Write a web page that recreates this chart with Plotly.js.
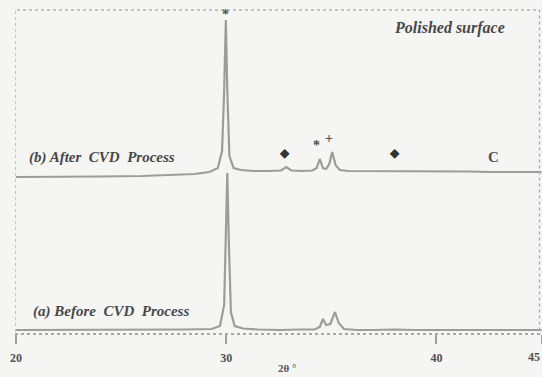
<!DOCTYPE html>
<html>
<head>
<meta charset="utf-8">
<script src="https://cdn.plot.ly/plotly-3.0.1.min.js"></script>
<style>html,body{margin:0;padding:0;background:#f5f5f4;}#chart{width:542px;height:377px;}</style>
</head>
<body>
<div id="chart"></div>
<script>
// 2θ positions and intensities (arbitrary units)
const twoThetaB = [20, 22, 24, 26, 27.5, 28.5, 29.2, 29.6, 29.8, 29.9, 29.98, 30.05, 30.15, 30.35, 30.7, 31.3, 32.0, 32.6, 32.85, 33.1, 33.6, 34.1, 34.3, 34.45, 34.6, 34.75, 34.9, 35.04, 35.2, 35.4, 35.8, 36.5, 37.5, 38.5, 39.5, 40.5, 41.5, 42.5, 43.5, 44.5, 45];
const intensityB = [-6, -6, -5.5, -5, -4, -3, -1, 3, 20, 80, 151, 80, 15, 3, 1, 0, 0, 0.5, 4, 0.5, 0, 0.5, 3, 12, 3, 2, 7, 19, 6, 1, 0, 0, -0.5, 0, -0.5, 0, -0.5, -1, -1, -1, -1];

const twoThetaA = [20, 22, 24, 26, 28, 29.3, 29.7, 29.9, 30.0, 30.05, 30.12, 30.22, 30.4, 30.8, 31.5, 32.5, 33.5, 34.2, 34.45, 34.6, 34.75, 34.95, 35.17, 35.35, 35.6, 36.2, 37, 38, 39, 40, 41, 42, 43, 44, 45];
const intensityA = [0, 0, 0.5, 0, 0.5, 1, 4, 25, 100, 157, 90, 18, 4, 1.5, 0.5, 0, 0.5, 0.5, 3, 11, 5, 6, 18, 7, 1, 0, 0, 0.5, 0, 0, 0, 0, 0, 0, 0];

const tickVals = [20, 30, 40, 45];
const tickLabels = ["20", "30", "40", "45"];

// peak markers on the upper pattern: [2θ, height, symbol]
const markerX = [29.98, 32.75, 34.3, 34.9, 38.0, 42.7];
const markerY = [157, 18.5, 26, 33, 18.5, 14];
const markerText = ["*", "◆", "*", "+", "◆", "C"];

const seriesLabels = ["(b) After\u00a0 CVD\u00a0 Process", "(a) Before\u00a0 CVD\u00a0 Process"];
const noteText = "Polished surface";
const xTitle = "2θ °";

const lineColor = "#9c9c9c";
const textColor = "#484848";
const serif = "Liberation Serif";
const tickFont = {family: serif, size: 12, color: "#505050", weight: "bold"};

const traces = [
  {x: twoThetaA, y: intensityA, type: "scatter", mode: "lines", yaxis: "y",
   line: {color: lineColor, width: 2.2}, hoverinfo: "skip"},
  {x: twoThetaB, y: intensityB, type: "scatter", mode: "lines", yaxis: "y2",
   line: {color: lineColor, width: 2.2}, hoverinfo: "skip"}
];

const markerSizes = {"*": 14, "◆": 12, "+": 14, "C": 15};
const annotations = markerText.map((t, i) => ({
  x: markerX[i], y: markerY[i], xref: "x", yref: "y2", text: t, showarrow: false,
  font: {family: serif, size: markerSizes[t], color: t === "◆" ? "#333333" : "#505050", weight: "bold"},
  xanchor: "center", yanchor: "middle"
}));

annotations.push(
  {x: 20.52, y: 14, xref: "x", yref: "y2", text: seriesLabels[0], showarrow: false,
   xanchor: "left", yanchor: "middle",
   font: {family: serif, size: 15, color: textColor, weight: "bold", style: "italic"}},
  {x: 20.71, y: 19, xref: "x", yref: "y", text: seriesLabels[1], showarrow: false,
   xanchor: "left", yanchor: "middle",
   font: {family: serif, size: 15, color: textColor, weight: "bold", style: "italic"}},
  {x: 37.87, y: 143, xref: "x", yref: "y2", text: noteText, showarrow: false,
   xanchor: "left", yanchor: "middle",
   font: {family: serif, size: 16, color: textColor, weight: "bold", style: "italic"}},
  {x: 32.9, y: -0.105, xref: "x", yref: "paper", text: xTitle, showarrow: false,
   xanchor: "center", yanchor: "middle",
   font: {family: serif, size: 11, color: "#555555", weight: "bold"}},
  // last tick label sits at the right edge; draw it right-aligned so it stays visible
  {x: tickVals[3], y: -0.072, xref: "x", yref: "paper", text: tickLabels[3], showarrow: false,
   xanchor: "right", yanchor: "middle", xshift: 0, font: tickFont}
);

const layout = {
  width: 542, height: 377,
  margin: {l: 15, r: 0, t: 10, b: 43},
  paper_bgcolor: "#f5f5f4", plot_bgcolor: "#f5f5f4",
  showlegend: false,
  font: {family: serif},
  xaxis: {range: [19.95, 45.02], tickvals: tickVals,
    ticktext: tickLabels.map((t, i) => i === tickLabels.length - 1 ? "" : t),
    ticks: "outside", ticklen: 9, tickwidth: 2, tickcolor: "#a0a0a0",
    showgrid: false, zeroline: false, showline: false,
    ticklabelstandoff: 4,
    tickfont: tickFont, fixedrange: true},
  yaxis: {range: [-4, 320], visible: false, fixedrange: true},
  yaxis2: {range: [-163, 161], overlaying: "y", visible: false, fixedrange: true},
  shapes: [
    {type: "rect", xref: "x", yref: "paper", x0: 19.95, x1: 44.9, y0: 0, y1: 1,
     line: {color: "#b0b0b0", width: 1.5, dash: "dot"}},
    {type: "line", xref: "x", yref: "paper", x0: 19.95, x1: 45.02, y0: 0, y1: 0,
     line: {color: "#a8a8a8", width: 2, dash: "dot"}}
  ],
  annotations: annotations
};

Plotly.newPlot("chart", traces, layout, {displayModeBar: false, staticPlot: true});
</script>
</body>
</html>
